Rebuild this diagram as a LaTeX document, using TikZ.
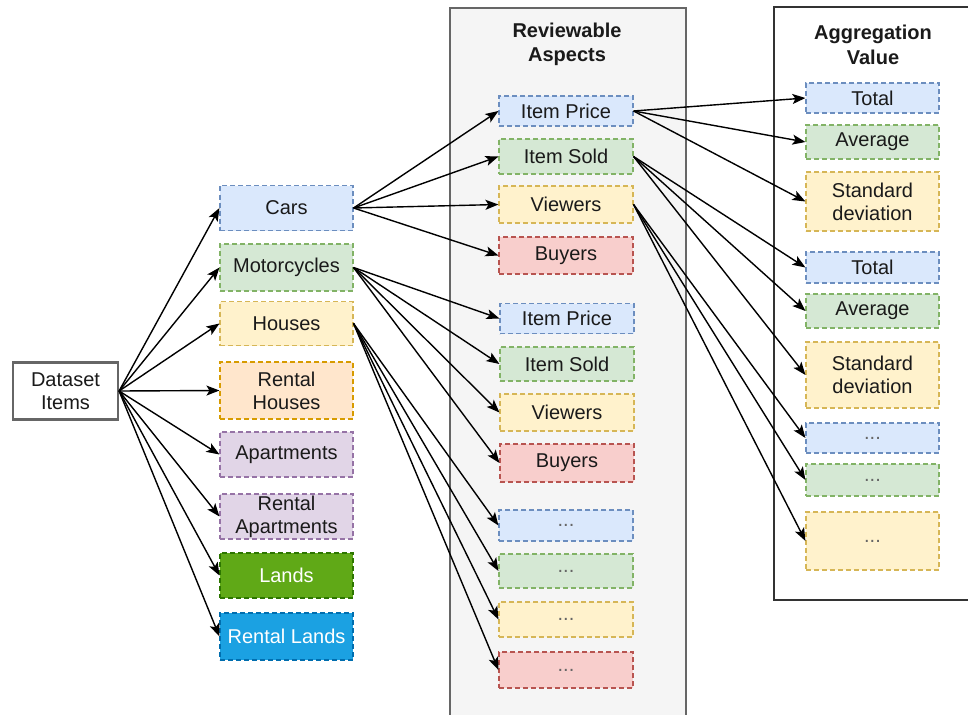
\documentclass[tikz,border=0pt]{standalone}
\usepackage{fontspec}
\setmainfont{Liberation Sans}
\usetikzlibrary{arrows.meta}
\definecolor{bfill}{HTML}{DAE8FC}\definecolor{bline}{HTML}{6C8EBF}
\definecolor{gfill}{HTML}{D5E8D4}\definecolor{gline}{HTML}{82B366}
\definecolor{yfill}{HTML}{FFF2CC}\definecolor{yline}{HTML}{D6B656}
\definecolor{ofill}{HTML}{FFE6CC}\definecolor{oline}{HTML}{D79B00}
\definecolor{pfill}{HTML}{E1D5E7}\definecolor{pline}{HTML}{9673A6}
\definecolor{rfill}{HTML}{F8CECC}\definecolor{rline}{HTML}{B85450}
\definecolor{lfill}{HTML}{60A917}\definecolor{lline}{HTML}{2D7600}
\definecolor{cfill}{HTML}{1BA1E2}\definecolor{cline}{HTML}{006EAF}
\definecolor{contfill}{HTML}{F5F5F5}\definecolor{contline}{HTML}{666666}
\definecolor{txt}{HTML}{1A1A1A}
\begin{document}
\begin{tikzpicture}[x=1pt,y=-1pt,
  box/.style={draw, dash pattern=on 5pt off 3pt, line width=1.1pt, minimum width=133pt,
    inner sep=0pt, align=center, text=txt, font=\fontsize{20}{23}\selectfont},
  bbox/.style={box, fill=bfill, draw=bline},
  gbox/.style={box, fill=gfill, draw=gline},
  ybox/.style={box, fill=yfill, draw=yline},
  obox/.style={box, fill=ofill, draw=oline},
  pbox/.style={box, fill=pfill, draw=pline},
  rbox/.style={box, fill=rfill, draw=rline},
  lbox/.style={box, fill=lfill, draw=lline, text=white},
  cbox/.style={box, fill=cfill, draw=cline, text=white},
  dots/.style={text=black!60},
  title/.style={align=center, font=\fontsize{20}{24.5}\selectfont\bfseries, text=txt},
  arr/.style={-{Stealth[length=13pt,width=10pt,inset=3pt]}, line width=1.4pt}]
\clip (0,0) rectangle (968,714);
\fill[white] (0,0) rectangle (968,714);
% containers
\draw[draw=contline, fill=contfill, line width=1.3pt] (450,8) rectangle (686,730);
\node[title] (rvt) at (567,44.5) {Reviewable\\Aspects};
\draw[draw=black!80, fill=white, line width=1.8pt] (774,7) rectangle (985,600);
\node[title] (agt) at (873,45) {Aggregation\\Value};
% dataset
\node[draw=contline, line width=2.2pt, fill=white, minimum width=105pt, minimum height=57pt,
  inner sep=0pt, align=center, text=txt, font=\fontsize{20}{23}\selectfont] (ds) at (65.5,391) {Dataset\\Items};
% categories
\node[bbox, minimum height=45pt] (cars) at (286.5,208) {Cars};
\node[gbox, minimum height=47pt] (moto) at (286.5,267.5) {Motorcycles};
\node[ybox, minimum height=44pt] (houses) at (286.5,323.5) {Houses};
\node[obox, minimum height=57pt] (rhouses) at (286.5,390.5) {Rental\\Houses};
\node[pbox, minimum height=45pt] (apts) at (286.5,454.5) {Apartments};
\node[pbox, minimum height=45pt] (rapts) at (286.5,516.5) {Rental\\Apartments};
\node[lbox, minimum height=45pt] (lands) at (286.5,575.5) {Lands};
\node[cbox, minimum height=47pt] (rlands) at (286.5,636.5) {Rental Lands};
% aspects
\node[bbox, minimum width=134pt, minimum height=30pt] (ipa) at (566,111) {Item Price};
\node[gbox, minimum width=134pt, minimum height=35pt] (isa) at (566,156.5) {Item Sold};
\node[ybox, minimum width=134pt, minimum height=37pt] (vwa) at (566,204.5) {Viewers};
\node[rbox, minimum width=134pt, minimum height=37pt] (bya) at (566,255.5) {Buyers};
\node[bbox, minimum width=134pt, minimum height=30pt] (ipb) at (567,318.5) {Item Price};
\node[gbox, minimum width=134pt, minimum height=34pt] (isb) at (567,364) {Item Sold};
\node[ybox, minimum width=134pt, minimum height=37pt] (vwb) at (567,412.5) {Viewers};
\node[rbox, minimum width=134pt, minimum height=38pt] (byb) at (567,463) {Buyers};
\node[bbox, dots, minimum width=134pt, minimum height=31pt] (da) at (566,525.5) {...};
\node[gbox, dots, minimum width=134pt, minimum height=34pt] (db) at (566,571) {...};
\node[ybox, dots, minimum width=134pt, minimum height=35pt] (dc) at (566,619.5) {...};
\node[rbox, dots, minimum width=134pt, minimum height=36pt] (dd) at (566,670) {...};
% aggregation
\node[bbox, minimum height=30pt] (ta) at (872.5,98) {Total};
\node[gbox, minimum height=34pt] (aa) at (872.5,142) {Average};
\node[ybox, minimum height=59pt] (sa) at (872.5,201.5) {Standard\\deviation};
\node[bbox, minimum height=31pt] (tb) at (872.5,267.5) {Total};
\node[gbox, minimum height=34pt] (ab) at (872.5,311) {Average};
\node[ybox, minimum height=66pt] (sb) at (872.5,375) {Standard\\deviation};
\node[bbox, dots, minimum height=30pt] (ea) at (872.5,438) {...};
\node[gbox, dots, minimum height=32pt] (eb) at (872.5,480) {...};
\node[ybox, dots, minimum height=58pt] (ec) at (872.5,541) {...};
% edges
\foreach \t in {cars,moto,houses,rhouses,apts,rapts,lands,rlands}
  \draw[arr] (ds.east) -- (\t.west);
\foreach \t in {ipa,isa,vwa,bya}
  \draw[arr] (cars.east) -- (\t.west);
\foreach \t in {ipb,isb,vwb,byb}
  \draw[arr] (moto.east) -- (\t.west);
\foreach \t in {da,db,dc,dd}
  \draw[arr] (houses.east) -- (\t.west);
\foreach \t in {ta,aa,sa}
  \draw[arr] (ipa.east) -- (\t.west);
\foreach \t in {tb,ab,sb}
  \draw[arr] (isa.east) -- (\t.west);
\foreach \t in {ea,eb,ec}
  \draw[arr] (vwa.east) -- (\t.west);
\end{tikzpicture}
\end{document}
